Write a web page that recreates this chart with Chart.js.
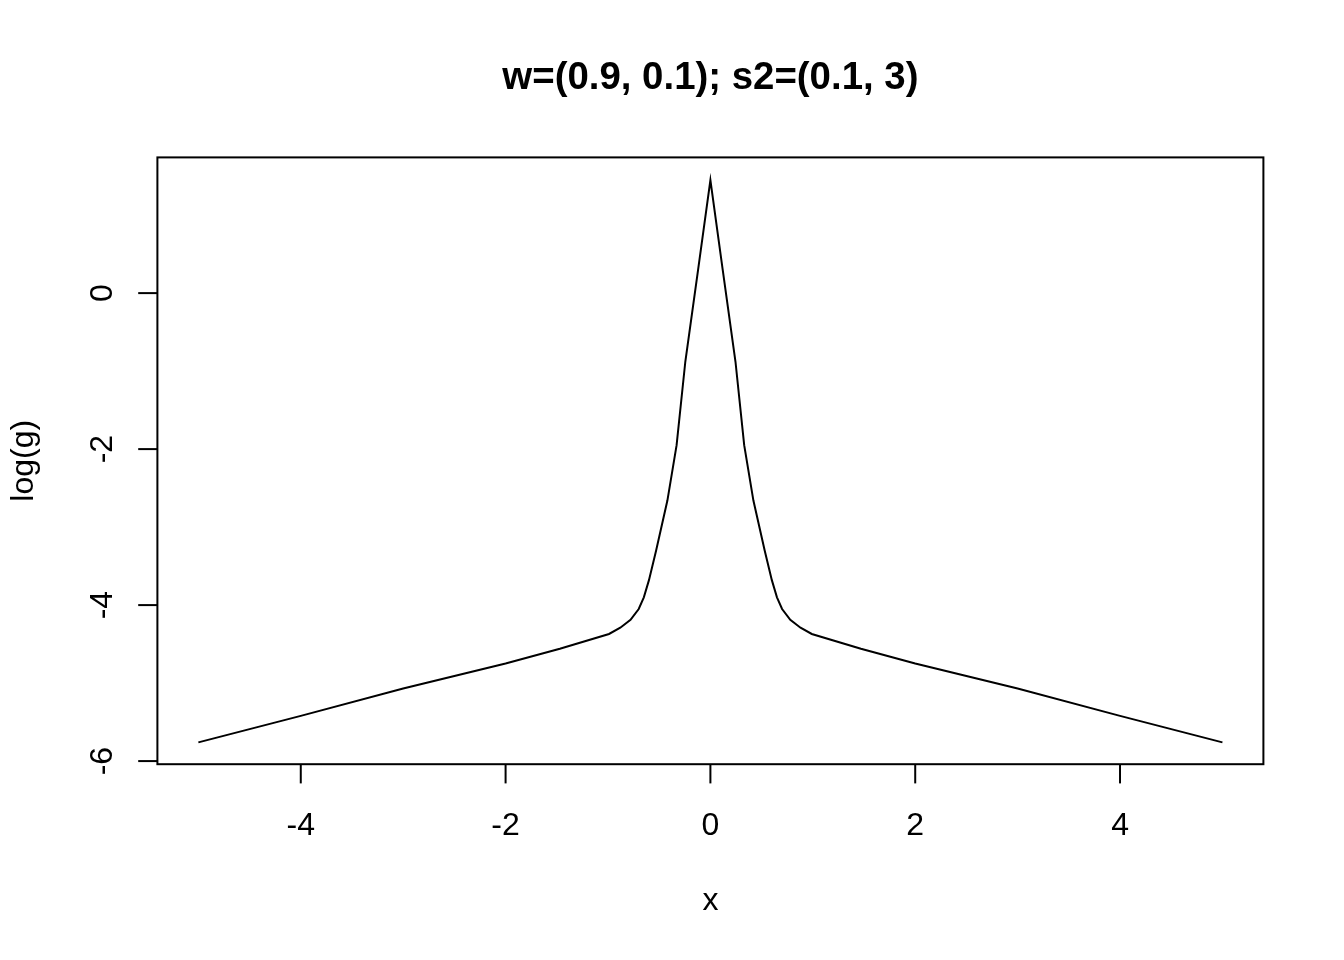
<!DOCTYPE html>
<html>
<head>
<meta charset="utf-8">
<script src="https://cdn.jsdelivr.net/npm/chart.js@4"></script>
<style>
  html, body { margin: 0; padding: 0; background: #fff; }
  canvas { display: block; }
</style>
</head>
<body>
<canvas id="grafico" width="1344" height="960"></canvas>
<script>
const titulo = 'w=(0.9, 0.1); s2=(0.1, 3)';
const xTicks = [-4, -2, 0, 2, 4];
const yTicks = [-6, -4, -2, 0];
// curve
const xVals = [-5, -4, -3, -2, -1.47, -0.99, -0.88, -0.78, -0.7, -0.65, -0.6, -0.53, -0.42, -0.33, -0.245, -0.12, 0,
               0.12, 0.245, 0.33, 0.42, 0.53, 0.6, 0.65, 0.7, 0.78, 0.88, 0.99, 1.47, 2, 3, 4, 5];
const logG = [-5.76, -5.42, -5.07, -4.75, -4.56, -4.37, -4.29, -4.19, -4.05, -3.9, -3.68, -3.3, -2.66, -1.95, -0.88, 0.3, 1.45,
              0.3, -0.88, -1.95, -2.66, -3.3, -3.68, -3.9, -4.05, -4.19, -4.29, -4.37, -4.56, -4.75, -5.07, -5.42, -5.76];

const fonte = '"Liberation Sans", Arial, Helvetica, sans-serif';

const eixosR = {
    id: 'eixosR',
    afterDraw(chart) {
        const c = chart.ctx;
        const a = chart.chartArea;
        const sx = chart.scales.x;
        const sy = chart.scales.y;
        c.save();
        c.strokeStyle = '#000';
        c.fillStyle = '#000';
        c.lineWidth = 2;
        c.strokeRect(a.left, a.top, a.right - a.left, a.bottom - a.top);

        // x ticks
        c.font = '32px ' + fonte;
        c.textAlign = 'center';
        c.textBaseline = 'alphabetic';
        xTicks.forEach(v => {
            const px = sx.getPixelForValue(v);
            c.beginPath();
            c.moveTo(px, a.bottom);
            c.lineTo(px, a.bottom + 19.2);
            c.stroke();
            c.fillText(String(v), px, 834.5);
        });

        // y ticks, rotated labels
        yTicks.forEach(v => {
            const py = sy.getPixelForValue(v);
            c.beginPath();
            c.moveTo(a.left, py);
            c.lineTo(a.left - 19.2, py);
            c.stroke();
            c.save();
            c.translate(112, py);
            c.rotate(-Math.PI / 2);
            c.fillText(String(v), 0, 0);
            c.restore();
        });

        // axis titles
        c.fillText('x', (a.left + a.right) / 2, 910);
        c.save();
        c.translate(33, (a.top + a.bottom) / 2);
        c.rotate(-Math.PI / 2);
        c.fillText('log(g)', 0, 0);
        c.restore();

        // main title
        c.font = 'bold 38.4px ' + fonte;
        c.fillText(titulo, (a.left + a.right) / 2, 88.5);
        c.restore();
    }
};

new Chart(document.getElementById('grafico').getContext('2d'), {
    type: 'line',
    data: {
        datasets: [{
            data: xVals.map((x, i) => ({ x: x, y: logG[i] })),
            borderColor: '#000',
            borderWidth: 2,
            pointRadius: 0,
            tension: 0,
            fill: false
        }]
    },
    options: {
        responsive: false,
        animation: false,
        layout: { padding: { left: 0, top: 157.4, right: 80.6, bottom: 0 } },
        plugins: {
            legend: { display: false },
            tooltip: { enabled: false },
            title: { display: false }
        },
        scales: {
            x: {
                type: 'linear',
                min: -5.4,
                max: 5.4,
                grid: { display: false },
                border: { display: false },
                ticks: { display: false },
                afterFit(s) { s.height = 195.8; }
            },
            y: {
                type: 'linear',
                min: -6.04,
                max: 1.74,
                grid: { display: false },
                border: { display: false },
                ticks: { display: false },
                afterFit(s) { s.width = 157.4; }
            }
        }
    },
    plugins: [eixosR]
});
</script>
</body>
</html>
